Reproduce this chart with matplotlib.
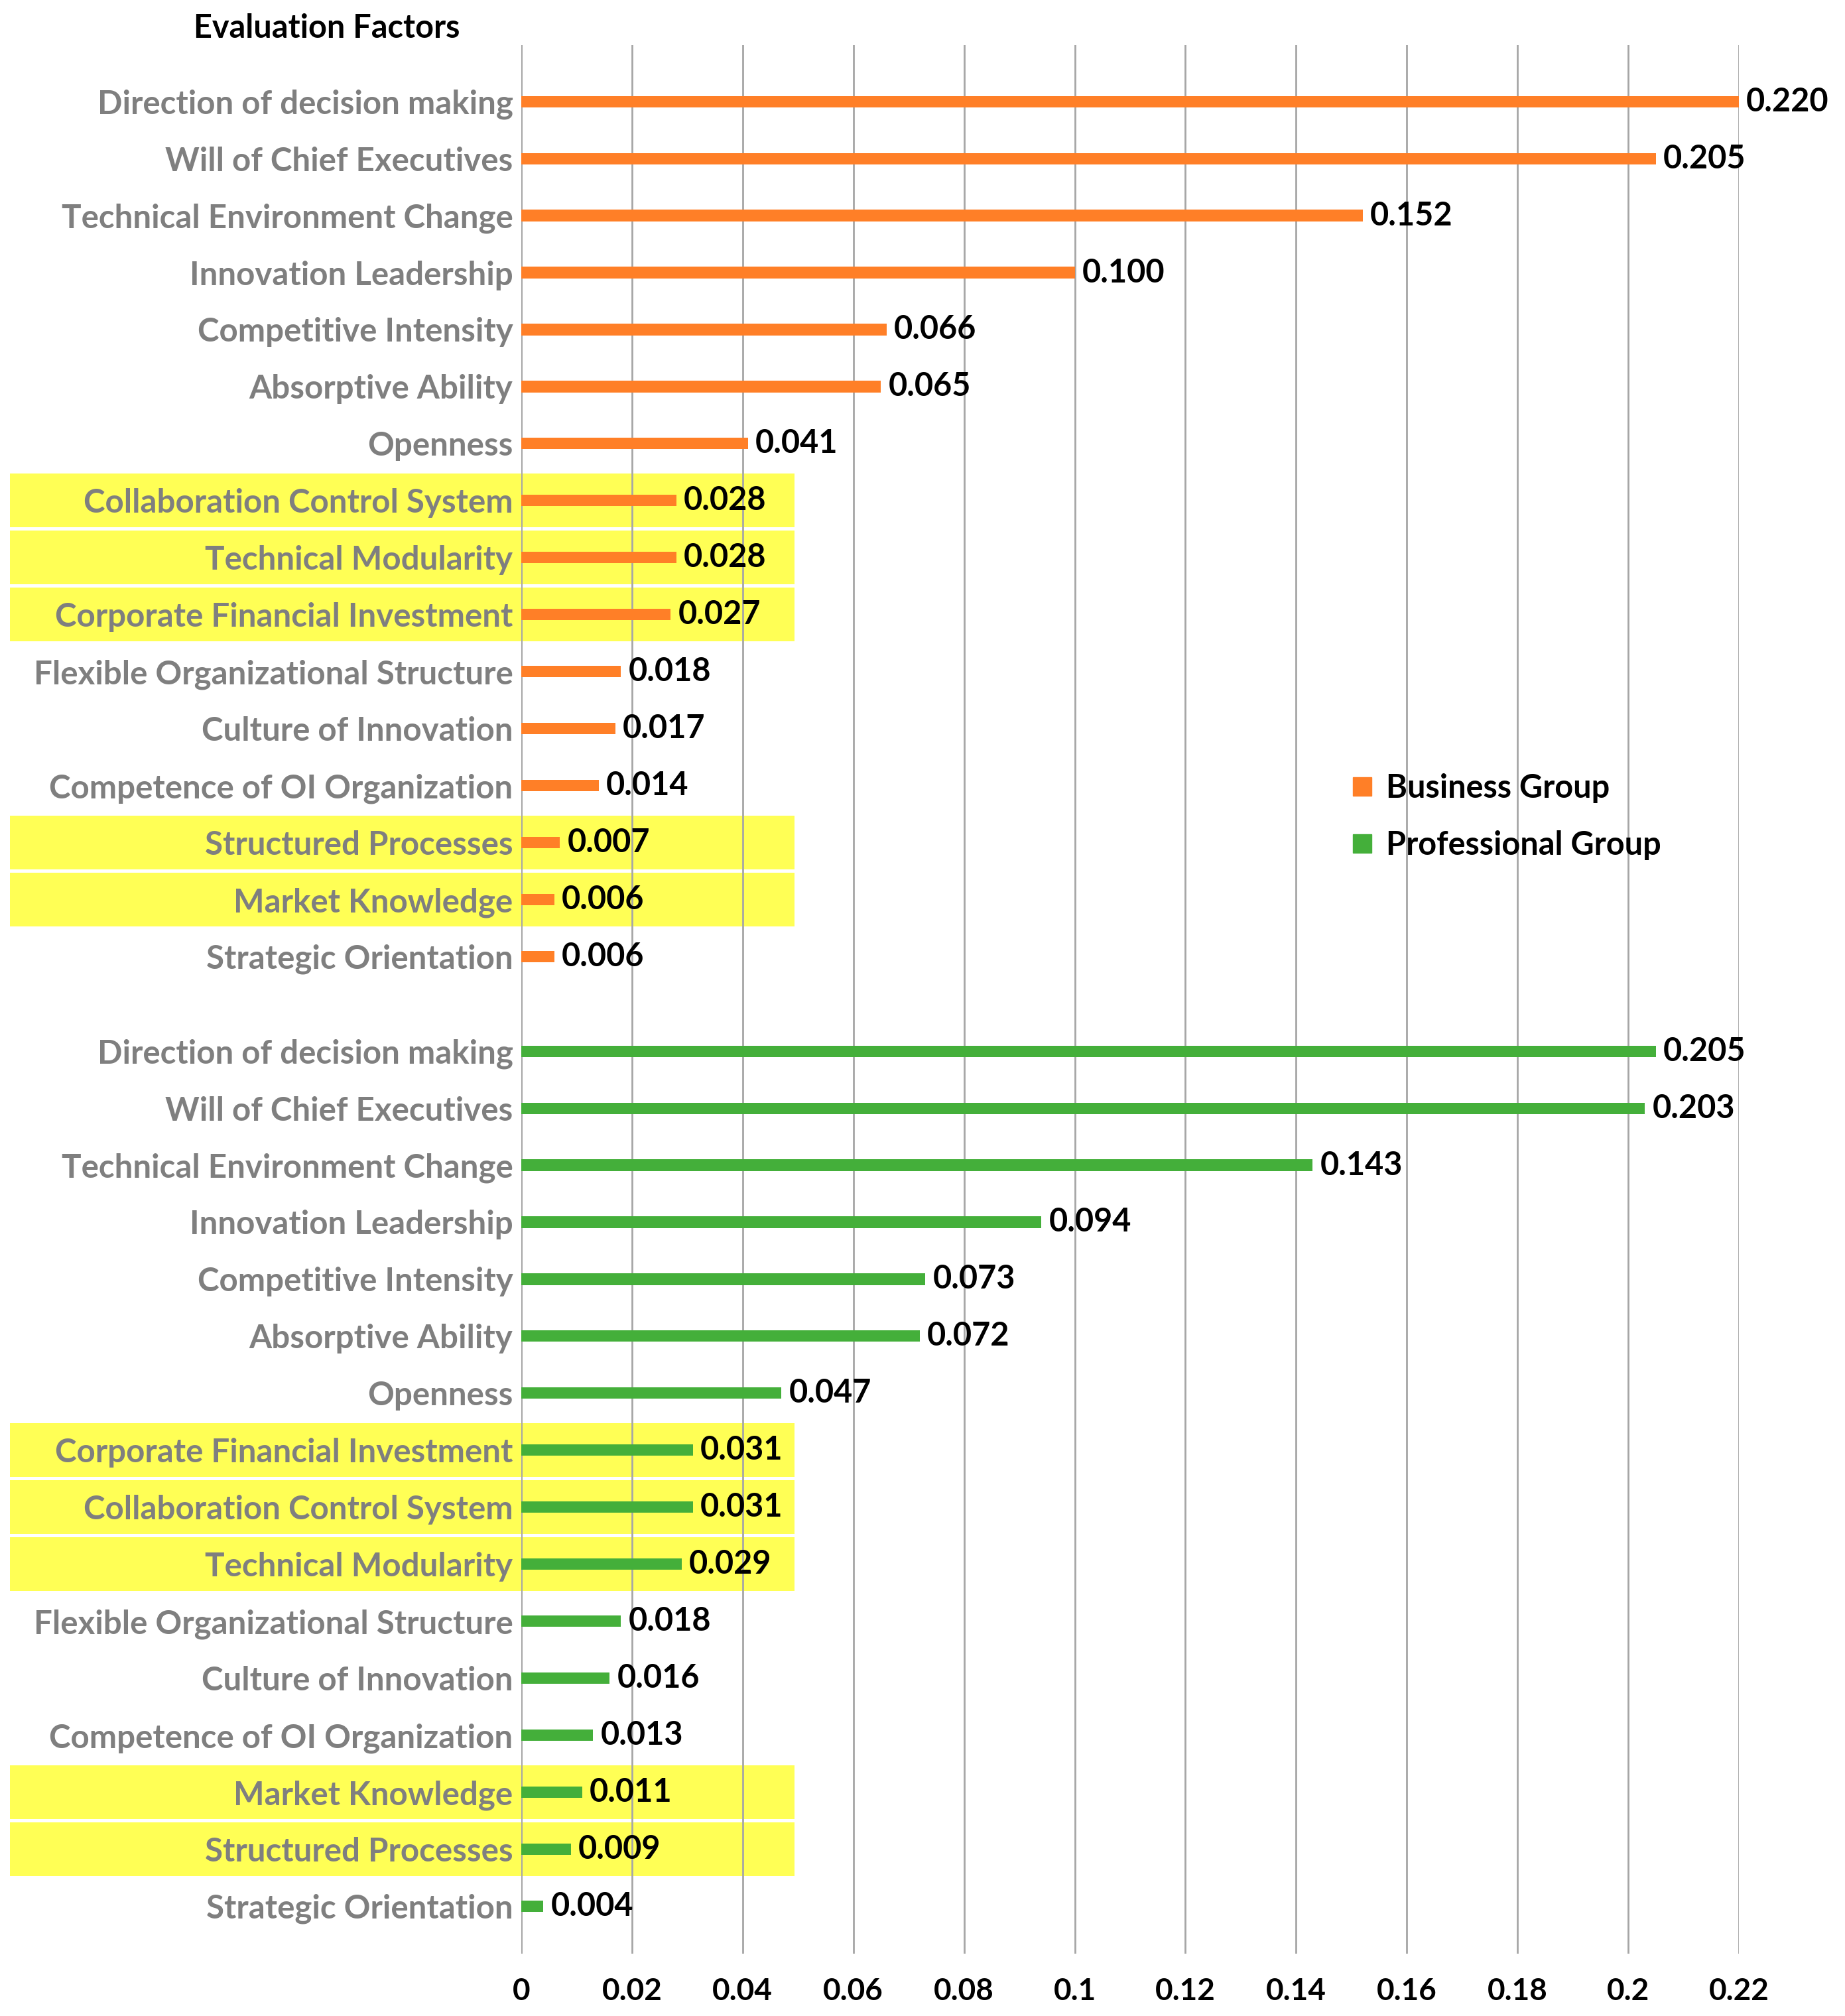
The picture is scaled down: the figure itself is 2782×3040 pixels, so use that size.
import matplotlib
matplotlib.use('Agg')
import matplotlib.pyplot as plt
from matplotlib.lines import Line2D
from matplotlib.patches import Rectangle
from matplotlib.transforms import blended_transform_factory

plt.rcParams['font.family'] = ['Lato', 'DejaVu Sans']
plt.rcParams['font.weight'] = 'bold'

# Данные
business_factors = ['Direction of decision making', 'Will of Chief Executives',
                    'Technical Environment Change', 'Innovation Leadership',
                    'Competitive Intensity', 'Absorptive Ability', 'Openness',
                    'Collaboration Control System', 'Technical Modularity',
                    'Corporate Financial Investment', 'Flexible Organizational Structure',
                    'Culture of Innovation', 'Competence of OI Organization',
                    'Structured Processes', 'Market Knowledge', 'Strategic Orientation']
business_values = [0.220, 0.205, 0.152, 0.100, 0.066, 0.065, 0.041, 0.028, 0.028,
                   0.027, 0.018, 0.017, 0.014, 0.007, 0.006, 0.006]

professional_factors = ['Direction of decision making', 'Will of Chief Executives',
                        'Technical Environment Change', 'Innovation Leadership',
                        'Competitive Intensity', 'Absorptive Ability', 'Openness',
                        'Corporate Financial Investment', 'Collaboration Control System',
                        'Technical Modularity', 'Flexible Organizational Structure',
                        'Culture of Innovation', 'Competence of OI Organization',
                        'Market Knowledge', 'Structured Processes', 'Strategic Orientation']
professional_values = [0.205, 0.203, 0.143, 0.094, 0.073, 0.072, 0.047, 0.031, 0.031,
                       0.029, 0.018, 0.016, 0.013, 0.011, 0.009, 0.004]

highlighted = ['Collaboration Control System', 'Technical Modularity',
               'Corporate Financial Investment', 'Structured Processes', 'Market Knowledge']

xticks = [0, 0.02, 0.04, 0.06, 0.08, 0.1, 0.12, 0.14, 0.16, 0.18, 0.2, 0.22]

ORANGE = '#FF7F27'
GREEN = '#44AF3A'
YELLOW = '#FFFF55'
GRAY = '#7F7F7F'

# Позиции строк: две группы с промежутком
gap = 1.66
pos_b = list(range(len(business_factors)))
pos_p = [len(business_factors) - 1 + gap + i for i in range(len(professional_factors))]

fig = plt.figure(figsize=(27.82, 30.40), dpi=100)
ax = fig.add_axes([0.2825, 0.031, 0.9425 - 0.2825, 0.9776 - 0.031])

ax.barh(pos_b, business_values, height=0.2, color=ORANGE, zorder=3)
ax.barh(pos_p, professional_values, height=0.2, color=GREEN, zorder=3)

# Подписи значений
for y, v in zip(pos_b + pos_p, business_values + professional_values):
    ax.annotate(f'{v:.3f}', (v, y), xytext=(8, 0), textcoords='offset points',
                ha='left', va='center', fontsize=35, fontweight='bold', color='black',
                annotation_clip=False, zorder=4)

# Жёлтая подсветка
trans = blended_transform_factory(fig.transFigure, ax.transData)
for pos, names in ((pos_b, business_factors), (pos_p, professional_factors)):
    for y, name in zip(pos, names):
        if name in highlighted:
            ax.add_patch(Rectangle((0.0054, y - 0.47), 0.4252, 0.94, transform=trans,
                                   facecolor=YELLOW, edgecolor='none', clip_on=False,
                                   zorder=0.1))

ax.set_yticks(pos_b + pos_p)
ax.set_yticklabels(business_factors + professional_factors, color=GRAY,
                   fontsize=35.5, fontweight='bold')
ax.set_ylim(pos_p[-1] + 0.83, -0.99)
ax.set_xlim(0, 0.22)
ax.set_xticks(xticks)
ax.set_xticklabels([f'{t:g}' for t in xticks], fontsize=33, fontweight='bold')
ax.tick_params(axis='y', length=0, pad=9)
ax.tick_params(axis='x', length=0, pad=26)
ax.grid(axis='x', color='#A6A6A6', linewidth=2)
ax.set_axisbelow(True)
for s in ax.spines.values():
    s.set_visible(False)
ax.axvline(0, color='#A6A6A6', linewidth=2, zorder=0.5)

fig.text(0.177, 0.986, 'Evaluation Factors', ha='center', va='center',
         fontsize=35, fontweight='bold', color='black')

handles = [Line2D([], [], marker='s', linestyle='none', color=ORANGE, markersize=20),
           Line2D([], [], marker='s', linestyle='none', color=GREEN, markersize=20)]
fig.legend(handles, ['Business Group', 'Professional Group'], loc='center left',
           bbox_to_anchor=(0.712, 0.570, 0.2, 0.05), frameon=False, fontsize=35,
           labelspacing=0.85, handletextpad=0.15, handlelength=1.2)

fig.savefig('out.png', dpi=100)
